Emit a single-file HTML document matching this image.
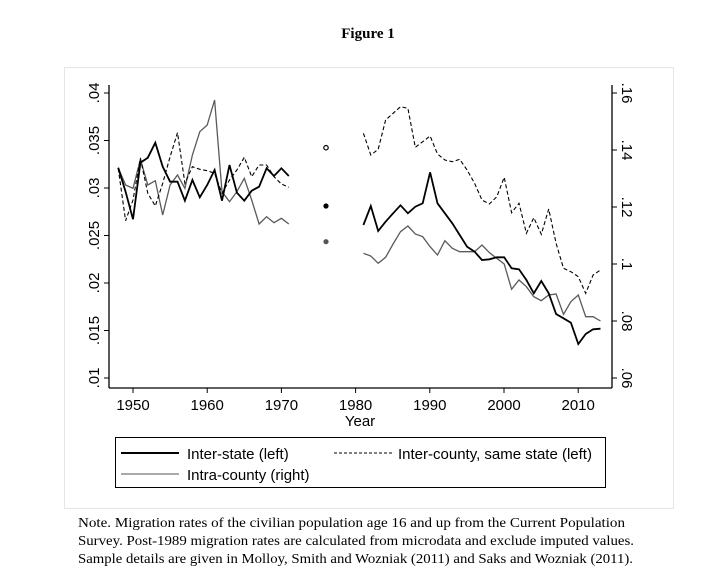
<!DOCTYPE html>
<html><head><meta charset="utf-8"><style>
body{margin:0;background:#fff;width:711px;height:587px;overflow:hidden;}
svg{display:block}
.s{font-family:"Liberation Sans",sans-serif;font-size:15px;fill:#000}
.n{font-family:"Liberation Serif",serif;font-size:14px;fill:#000}
</style></head><body>
<svg id="c" width="711" height="587" viewBox="0 0 711 587" xmlns="http://www.w3.org/2000/svg">
<text x="368" y="38" text-anchor="middle" font-family="Liberation Serif,serif" font-weight="bold" font-size="15">Figure 1</text>
<rect x="64.5" y="67.5" width="609" height="441" fill="none" stroke="#e6e6e6"/>
<line x1="109" y1="85" x2="109" y2="388" stroke="#000" stroke-width="1.3"/>
<line x1="612" y1="85" x2="612" y2="388" stroke="#000" stroke-width="1.3"/>
<line x1="109" y1="388" x2="612" y2="388" stroke="#000" stroke-width="1.3"/>
<g id="ticks"></g>
<g id="lines" fill="none"></g>
<circle cx="326" cy="147.7" r="2.2" fill="#fff" stroke="#000" stroke-width="1.2"/>
<circle cx="326" cy="206" r="2.6" fill="#000"/>
<circle cx="326" cy="241.7" r="2.6" fill="#555"/>
<text class="s" x="360" y="426" text-anchor="middle" font-size="16">Year</text>
<rect x="115.5" y="437.5" width="490" height="50" fill="none" stroke="#000"/>
<line x1="121" y1="453" x2="179" y2="453" stroke="#000" stroke-width="2"/>
<text class="s" x="187" y="459" font-size="16">Inter-state (left)</text>
<line x1="334" y1="453" x2="392" y2="453" stroke="#000" stroke-width="1" stroke-dasharray="3,2"/>
<text class="s" x="398" y="459" font-size="16">Inter-county, same state (left)</text>
<line x1="121" y1="474" x2="179" y2="474" stroke="#555" stroke-width="1"/>
<text class="s" x="187" y="480" font-size="16">Intra-county (right)</text>
<text class="n" x="78" y="527" textLength="547" lengthAdjust="spacingAndGlyphs">Note. Migration rates of the civilian population age 16 and up from the Current Population</text>
<text class="n" x="78" y="545" textLength="556" lengthAdjust="spacingAndGlyphs">Survey. Post-1989 migration rates are calculated from microdata and exclude imputed values.</text>
<text class="n" x="78" y="563" textLength="555" lengthAdjust="spacingAndGlyphs">Sample details are given in Molloy, Smith and Wozniak (2011) and Saks and Wozniak (2011).</text>
</svg>
<script>
var NS="http://www.w3.org/2000/svg";
function el(t,a,p,txt){var e=document.createElementNS(NS,t);for(var k in a)e.setAttribute(k,a[k]);if(txt)e.textContent=txt;p.appendChild(e);return e;}
var T=document.getElementById('ticks'),L=document.getElementById('lines');
function X(y){return 133+(y-1950)*7.42;}
var yl=['.04','.035','.03','.025','.02','.015','.01'];
for(var i=0;i<7;i++){var y=93+i*47.5;
el('line',{x1:104,y1:y,x2:109,y2:y,stroke:'#000'},T);
el('text',{class:'s',transform:'translate(99,'+y+') rotate(-90)','text-anchor':'middle'},T,yl[i]);}
var yr=['.16','.14','.12','.1','.08','.06'];
for(var i=0;i<6;i++){var y=93+i*57;
el('line',{x1:612,y1:y,x2:617,y2:y,stroke:'#000'},T);
el('text',{class:'s',transform:'translate(622,'+y+') rotate(90)','text-anchor':'middle'},T,yr[i]);}
for(var yy=1950;yy<=2010;yy+=10){var x=X(yy);
el('line',{x1:x,y1:388,x2:x,y2:393,stroke:'#000'},T);
el('text',{class:'s','x':x,y:410,'text-anchor':'middle',"font-size":"16"},T,String(yy));}
function pl(start,arr,st){var p=[];for(var i=0;i<arr.length;i++)p.push(X(start+i).toFixed(1)+','+(60+arr[i]/3).toFixed(1));el('polyline',Object.assign({points:p.join(' ')},st),L);}
function plr(start,arr,st){var p=[];for(var i=0;i<arr.length;i++){var x=340+(48+(start+i-1980)*22.23)/3;p.push(x.toFixed(1)+','+(60+arr[i]/3).toFixed(1));}el('polyline',Object.assign({points:p.join(' ')},st),L);}
var gs={stroke:'#5a5a5a','stroke-width':1.3},bs={stroke:'#000','stroke-width':1.8},ds={stroke:'#000','stroke-width':1.1,'stroke-dasharray':'4,2.5'};
pl(1948,[323,375,385,298,375,362,465,375,345,385,285,215,195,120,395,425,395,355,420,492,470,488,475,492],gs);
pl(1948,[325,482,420,295,400,438,370,290,218,370,320,328,332,340,400,360,330,292,350,315,315,350,372,382],ds);
pl(1948,[323,395,478,308,293,248,320,365,365,422,360,412,375,330,422,315,398,422,392,380,325,348,325,348],bs);
plr(1981,[580,588,610,592,552,515,498,522,530,560,585,542,565,575,575,575,555,578,595,612,688,660,680,710,722,705,702,763,725,705,770,770,783],gs);
plr(1981,[220,285,268,180,160,140,145,262,245,228,282,300,305,298,330,370,420,432,410,352,458,430,520,473,523,447,550,625,635,650,700,645,630],ds);
plr(1981,[495,438,513,485,460,436,460,440,430,337,430,460,490,525,560,575,600,598,592,592,625,628,660,700,663,700,762,775,788,852,822,808,806],bs);
</script>
</body></html>
